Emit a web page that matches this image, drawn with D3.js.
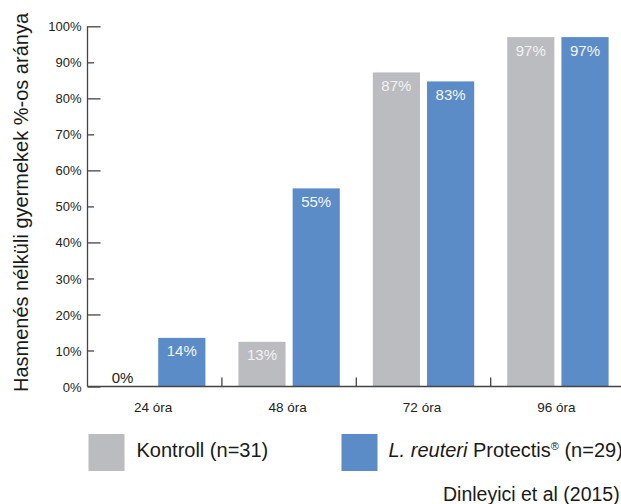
<!DOCTYPE html>
<html>
<head>
<meta charset="utf-8">
<script src="https://cdn.jsdelivr.net/npm/d3@7"></script>
<style>
  body { margin: 0; background: #fff; }
  svg { display: block; font-family: "Liberation Sans", Arial, sans-serif; }
</style>
</head>
<body>
<svg width="621" height="504"></svg>
<script>
// chart data
const categories = ["24 óra", "48 óra", "72 óra", "96 óra"];
const seriesNames = ["Kontroll (n=31)", "L. reuteri Protectis® (n=29)"];
const kontrollValues = [0, 12.4, 87.2, 97];
const reuteriValues = [13.5, 55, 84.7, 97];
const kontrollLabels = ["0%", "13%", "87%", "97%"];
const reuteriLabels = ["14%", "55%", "83%", "97%"];
const yTicks = [0, 10, 20, 30, 40, 50, 60, 70, 80, 90, 100];
const yTitle = "Hasmenés nélküli gyermekek %-os aránya";
const source = "Dinleyici et al (2015)";

const colors = ["#bbbcc0", "#5b8cc8"];

const svg = d3.select("svg");

// plot area
const plotLeft = 87.5, plotBottom = 386.5, plotTop = 26.3;
const groupWidth = 134.4;

const x = d3.scaleBand()
    .domain(categories)
    .range([plotLeft, plotLeft + groupWidth * categories.length])
    .padding(0);

const xInner = d3.scaleBand()
    .domain([0, 1])
    .range([16.5, groupWidth - 16.5])
    .paddingInner(0.13)
    .paddingOuter(0);

const y = d3.scaleLinear()
    .domain([0, 100])
    .range([plotBottom, plotTop]);

// bars
const groups = svg.selectAll("g.grp")
    .data(categories)
    .join("g")
    .attr("class", "grp")
    .attr("transform", d => `translate(${x(d)},0)`);

groups.each(function (cat, i) {
    const g = d3.select(this);
    const vals = [kontrollValues[i], reuteriValues[i]];
    const labs = [kontrollLabels[i], reuteriLabels[i]];
    vals.forEach((v, s) => {
        g.append("rect")
            .attr("x", xInner(s))
            .attr("y", y(v))
            .attr("width", xInner.bandwidth())
            .attr("height", plotBottom - y(v))
            .attr("fill", colors[s]);
        if (v > 0) {
            g.append("text")
                .attr("x", xInner(s) + xInner.bandwidth() / 2)
                .attr("y", y(v) + 18.5)
                .attr("text-anchor", "middle")
                .attr("font-size", 15)
                .attr("fill", s === 0 ? "#f2f2f2" : "#f4f6fa")
                .text(labs[s]);
        } else {
            g.append("text")
                .attr("x", xInner(s) + xInner.bandwidth() / 2 - 5)
                .attr("y", plotBottom - 4)
                .attr("text-anchor", "middle")
                .attr("font-size", 15)
                .attr("fill", "#222")
                .text(labs[s]);
        }
    });
});

// y axis: ticks point inward, every second one longer
const yAxis = d3.axisRight(y)
    .tickValues(yTicks)
    .tickSize(0)
    .tickFormat("");

const yg = svg.append("g")
    .attr("transform", `translate(${plotLeft},0)`)
    .call(yAxis);
yg.select(".domain").remove();

yg.selectAll(".tick line")
    .attr("x2", d => d % 20 === 0 ? 13 : 6.5)
    .attr("stroke", "#444")
    .attr("stroke-width", 1.3);

yg.selectAll(".tick")
    .append("text")
    .attr("x", -6)
    .attr("dy", "0.35em")
    .attr("text-anchor", "end")
    .attr("font-size", 13)
    .attr("fill", "#222")
    .text(d => d + "%");

svg.append("line")
    .attr("x1", plotLeft).attr("x2", plotLeft)
    .attr("y1", plotTop).attr("y2", plotBottom)
    .attr("stroke", "#444").attr("stroke-width", 1.3);

// x axis
const xg = svg.append("g")
    .attr("transform", `translate(0,${plotBottom})`);

xg.append("line")
    .attr("x1", plotLeft).attr("x2", 621)
    .attr("stroke", "#444").attr("stroke-width", 1.3);

xg.selectAll("line.sep")
    .data(categories.slice(1))
    .join("line")
    .attr("class", "sep")
    .attr("x1", d => x(d)).attr("x2", d => x(d))
    .attr("y1", 0).attr("y2", -9)
    .attr("stroke", "#444").attr("stroke-width", 1.3);

xg.selectAll("text")
    .data(categories)
    .join("text")
    .attr("x", d => x(d) + x.bandwidth() / 2 - 1.5)
    .attr("y", 25)
    .attr("text-anchor", "middle")
    .attr("font-size", 13.5)
    .attr("fill", "#222")
    .text(d => d);

// y title
svg.append("text")
    .attr("transform", "translate(28,202.5) rotate(-90)")
    .attr("text-anchor", "middle")
    .attr("font-size", 20)
    .attr("fill", "#1a1a1a")
    .text(yTitle);

// legend
const legendX = [88.5, 341.5];
const legend = svg.selectAll("g.leg")
    .data(seriesNames)
    .join("g")
    .attr("class", "leg")
    .attr("transform", (d, i) => `translate(${legendX[i]},434)`);

legend.append("rect")
    .attr("width", 36)
    .attr("height", 37)
    .attr("fill", (d, i) => colors[i]);

legend.filter((d, i) => i === 0).append("text")
    .attr("x", 48)
    .attr("y", 23)
    .attr("font-size", 20)
    .attr("fill", "#1a1a1a")
    .text(d => d);

const t2 = legend.filter((d, i) => i === 1).append("text")
    .attr("x", 47)
    .attr("y", 23)
    .attr("font-size", 20)
    .attr("fill", "#1a1a1a");
t2.append("tspan").attr("font-style", "italic").text("L. reuteri");
t2.append("tspan").text(" Protectis");
t2.append("tspan").attr("font-size", 11).attr("dy", -7).text("®");
t2.append("tspan").attr("dy", 7).text(" (n=29)");

svg.append("text")
    .attr("x", 443)
    .attr("y", 501)
    .attr("font-size", 19.5)
    .attr("fill", "#1a1a1a")
    .text(source);
</script>
</body>
</html>
